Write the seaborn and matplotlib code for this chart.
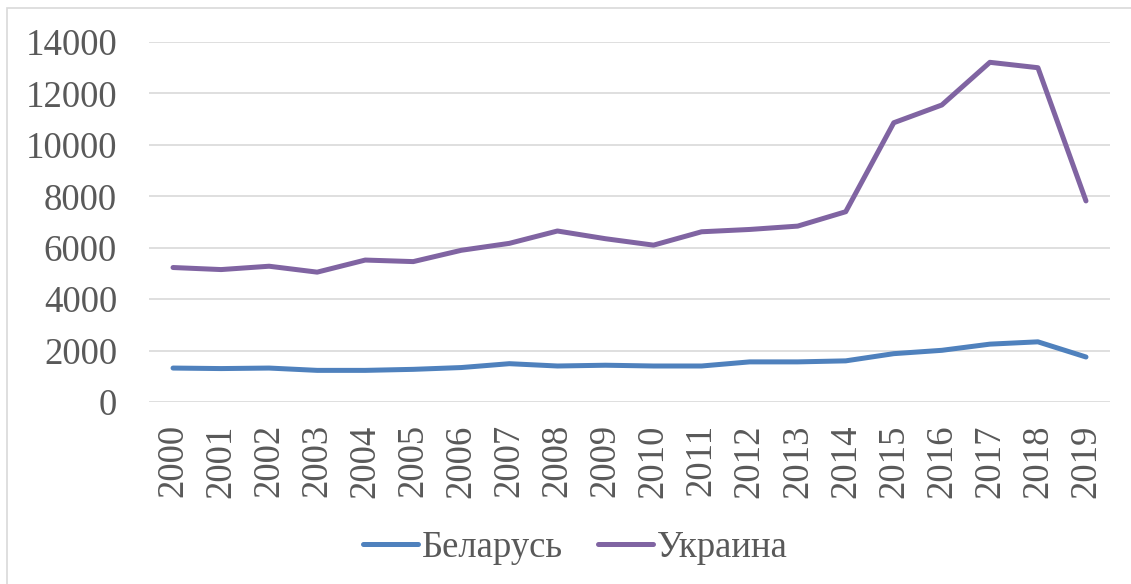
import matplotlib.pyplot as plt
import matplotlib.patches as mpatches
import seaborn as sns
import pandas as pd

# Data
years = [str(y) for y in range(2000, 2020)]
belarus = [1320, 1300, 1320, 1230, 1230, 1270, 1340, 1490, 1400, 1430,
           1400, 1400, 1560, 1560, 1600, 1880, 2010, 2250, 2340, 1750]
ukraine = [5230, 5150, 5280, 5050, 5520, 5460, 5900, 6170, 6650, 6350,
           6100, 6620, 6710, 6840, 7400, 10860, 11550, 13210, 13000, 7820]
series_names = ["Беларусь", "Украина"]
series_colors = ["#4F81BD", "#8064A2"]

df = pd.DataFrame({"year": years * 2,
                   "value": belarus + ukraine,
                   "country": [series_names[0]] * len(years) + [series_names[1]] * len(years)})

# styling
sns.set_theme(style="white")
plt.rcParams['font.family'] = ['Liberation Serif', 'DejaVu Serif']
fs = 26.5
txt_color = "#595959"
grid_color = "#d9d9d9"

fig = plt.figure(figsize=(11.31, 5.84), dpi=100)
ax = fig.add_axes([149 / 1131, 1 - 402 / 584, (1110 - 149) / 1131, (402 - 42) / 584])

sns.lineplot(data=df, x="year", y="value", hue="country", sort=False,
             palette=series_colors, linewidth=3.6, ax=ax)

ax.set_xlim(-0.5, len(years) - 0.5)
ax.set_ylim(0, 14000)
ax.set_yticks(range(0, 14001, 2000))
ax.set_yticklabels([str(v) for v in range(0, 14001, 2000)])
ax.set_xticks(range(len(years)))
ax.set_xticklabels(years, rotation=90)
ax.tick_params(axis="y", length=0, pad=23, labelsize=fs, labelcolor=txt_color)
ax.tick_params(axis="x", length=0, pad=16, labelsize=fs, labelcolor=txt_color)
ax.yaxis.grid(True, color=grid_color, linewidth=1.2)
ax.set_axisbelow(True)
for s in ax.spines.values():
    s.set_visible(False)
ax.set_xlabel("")
ax.set_ylabel("")

ax.legend(loc="center", bbox_to_anchor=(575 / 1131, 1 - 548 / 584),
          bbox_transform=fig.transFigure, ncol=2, frameon=False,
          fontsize=fs, labelcolor=txt_color, handlelength=1.5,
          handletextpad=0.1, columnspacing=0.95)

# chart area border
fig.patches.append(mpatches.Rectangle((7 / 1131, -0.05), 1.1, 1 - 8 / 584 + 0.05,
                                      transform=fig.transFigure, fill=False,
                                      edgecolor=grid_color, linewidth=1.2))

fig.savefig("out.png", dpi=100)
